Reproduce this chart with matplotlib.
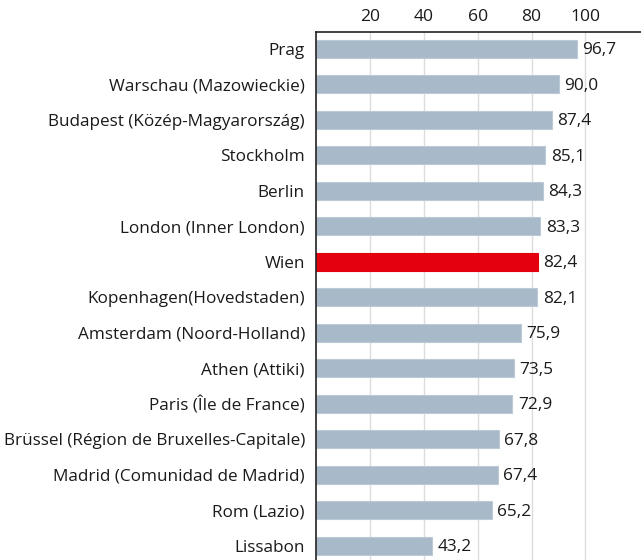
import matplotlib.pyplot as plt

regions = [
    "Prag",
    "Warschau (Mazowieckie)",
    "Budapest (Közép-Magyarország)",
    "Stockholm",
    "Berlin",
    "London (Inner London)",
    "Wien",
    "Kopenhagen(Hovedstaden)",
    "Amsterdam (Noord-Holland)",
    "Athen (Attiki)",
    "Paris (Île de France)",
    "Brüssel (Région de Bruxelles-Capitale)",
    "Madrid (Comunidad de Madrid)",
    "Rom (Lazio)",
    "Lissabon",
]
values = [96.7, 90.0, 87.4, 85.1, 84.3, 83.3, 82.4, 82.1, 75.9, 73.5, 72.9, 67.8, 67.4, 65.2, 43.2]
ticks = [20, 40, 60, 80, 100]

plt.rcParams['font.family'] = ['Open Sans', 'DejaVu Sans']

fig = plt.figure(figsize=(6.41, 5.60), dpi=100)
ax = fig.add_axes([316 / 641, 0.0, 1 - 316 / 641, 1 - 31.7 / 560])

colors = ['#E3000F' if r == "Wien" else '#A8B9C9' for r in regions]
edges = ['#E3000F' if r == "Wien" else '#BCCAD6' for r in regions]
y = list(range(len(regions)))
ax.barh(y, values, height=0.5, color=colors, edgecolor=edges, linewidth=0.8, zorder=2)

for yi, v in zip(y, values):
    ax.text(v + 2.0, yi + 0.04, f"{v:.1f}".replace('.', ','), va='center', ha='left',
            fontsize=12.4, color='#1a1a1a', zorder=3)

ax.set_xlim(0, 120.6)
ax.set_ylim(14.4, -0.48)
ax.set_yticks(y)
ax.set_yticklabels(regions, fontsize=12.3, color='#1a1a1a')
ax.set_xticks(ticks)
ax.set_xticklabels([str(t) for t in ticks], fontsize=12.6, color='#1a1a1a')
ax.xaxis.tick_top()
ax.tick_params(axis='both', length=0)
ax.tick_params(axis='y', pad=8)
ax.tick_params(axis='x', pad=5)
ax.grid(axis='x', color='#dcdcdc', linewidth=1, zorder=0)
ax.set_axisbelow(True)

for side in ['right', 'bottom']:
    ax.spines[side].set_visible(False)
ax.spines['top'].set_color('#222222')
ax.spines['left'].set_color('#222222')
ax.spines['top'].set_linewidth(1.2)
ax.spines['left'].set_linewidth(1.2)

fig.savefig('out.png', dpi=100)
